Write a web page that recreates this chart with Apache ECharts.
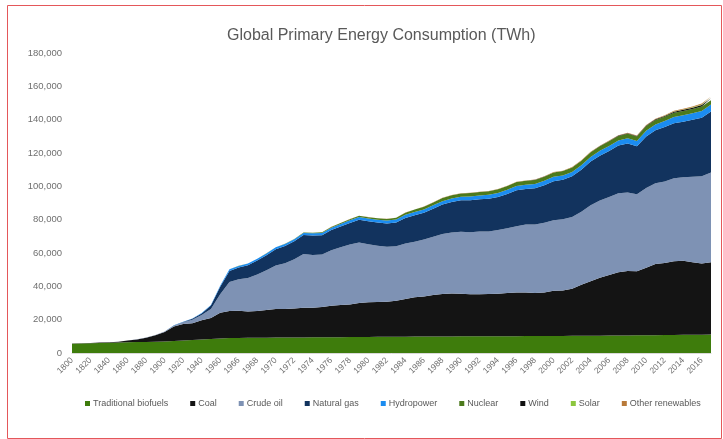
<!DOCTYPE html>
<html>
<head>
<meta charset="utf-8">
<script src="https://cdn.jsdelivr.net/npm/echarts@6/dist/echarts.min.js"></script>
<style>
html,body{margin:0;padding:0;background:#fff;}
#chart{width:723px;height:439px;}
</style>
</head>
<body>
<div id="chart"></div>
<script>
var years = ['1800','1810','1820','1830','1840','1850','1860','1870','1880','1890','1900','1910','1920','1930','1940','1950','1960',
'1965','1966','1967','1968','1969','1970','1971','1972','1973','1974','1975','1976','1977','1978','1979','1980','1981','1982','1983','1984',
'1985','1986','1987','1988','1989','1990','1991','1992','1993','1994','1995','1996','1997','1998','1999','2000','2001','2002','2003','2004',
'2005','2006','2007','2008','2009','2010','2011','2012','2013','2014','2015','2016','2017'];

var traditionalBiofuels = [5556,5694,5833,5972,6111,6250,6389,6528,6667,6806,6944,7222,7500,7778,8056,8333,8700,
9028,9070,9110,9150,9190,9230,9270,9310,9350,9390,9440,9480,9520,9560,9600,9640,9680,9720,9760,9800,
9840,9870,9900,9930,9960,9990,10020,10040,10060,10080,10100,10120,10140,10160,10180,10200,10240,10280,10320,10360,
10400,10450,10500,10550,10600,10650,10700,10760,10820,10880,10940,11020,11111];

var coal = [97,128,153,264,356,569,1061,1642,2542,3856,5728,8656,9833,10125,11586,12603,15442,
16140,16324,15748,16082,16664,17119,17100,17320,17740,17780,18200,18800,19300,19600,20400,20800,20900,21100,21600,22600,
23600,24000,24900,25500,25800,25600,25300,25200,25300,25400,25900,26200,26100,25900,26100,27100,27300,28200,30600,32700,
34800,36400,38000,38600,38400,40500,42700,43200,44300,44400,43500,42700,43400];

var crudeOil = [0,0,0,0,0,0,0,6,33,89,181,503,1097,1974,3233,5444,11097,
17500,18800,20200,21900,23800,26100,27500,29600,32300,31700,31400,33300,34600,35900,36300,34800,33700,32900,32700,33300,
33300,34200,34900,36000,36600,37100,37100,37600,37500,38300,38900,39800,40800,41000,41900,42400,42700,43100,43900,45600,
46300,46800,47400,47100,46200,47800,48400,49000,49700,50100,51300,52400,53752];

var naturalGas = [0,0,0,0,0,0,0,0,33,64,64,142,233,603,875,2092,4472,
6600,7100,7600,8300,9000,9800,10300,10800,11400,11600,11600,12200,12500,13000,13700,13800,14000,14000,14200,15300,
15900,16100,16900,17600,18300,18900,19300,19400,19700,19800,20500,21500,21400,21800,22500,23400,23700,24400,25200,26200,
26900,27600,28600,29400,28800,31000,31800,32600,33000,33400,34200,35100,36704];

var hydropower = [0,0,0,0,0,0,0,0,0,0,20,60,120,180,250,333,689,
920,980,1000,1050,1110,1160,1210,1250,1280,1390,1420,1440,1470,1580,1650,1720,1740,1790,1850,1900,
1950,1970,2000,2060,2080,2140,2200,2210,2320,2350,2480,2510,2550,2570,2600,2650,2600,2640,2650,2800,
2900,3000,3050,3200,3240,3430,3500,3660,3780,3880,3880,4020,4060];

var nuclear = [0,0,0,0,0,0,0,0,0,0,0,0,0,0,0,0,0,
26,35,41,52,62,80,112,153,204,259,370,430,540,640,670,710,830,900,1030,1260,
1480,1600,1730,1890,1940,2000,2100,2120,2200,2250,2330,2420,2400,2440,2530,2580,2650,2700,2640,2760,
2770,2800,2720,2730,2700,2770,2650,2470,2490,2540,2570,2610,2636];

var wind = [0,0,0,0,0,0,0,0,0,0,0,0,0,0,0,0,0,
0,0,0,0,0,0,0,0,0,0,0,0,0,0,0,0,0,0,0,0,
0,0,0,0,0,4,4,5,6,7,8,9,12,16,21,31,38,52,63,85,
104,133,171,221,276,346,437,521,636,712,831,959,1128];

var solar = [0,0,0,0,0,0,0,0,0,0,0,0,0,0,0,0,0,
0,0,0,0,0,0,0,0,0,0,0,0,0,0,0,0,0,0,0,0,
0,0,0,0,0,0,0,0,0,0,0,0,0,0,0,1,1,2,2,3,
4,6,8,12,20,32,64,100,139,190,253,330,443];

var otherRenewables = [0,0,0,0,0,0,0,0,0,0,0,0,0,0,0,0,0,
20,21,22,24,26,28,30,32,35,38,40,43,46,50,53,57,62,68,75,85,
95,102,110,117,125,130,135,140,146,150,155,160,168,172,178,183,185,195,204,220,
232,246,262,280,296,330,356,390,420,455,490,540,596];

var seriesNames = ['Traditional biofuels','Coal','Crude oil','Natural gas','Hydropower','Nuclear','Wind','Solar','Other renewables'];
var seriesData = [traditionalBiofuels, coal, crudeOil, naturalGas, hydropower, nuclear, wind, solar, otherRenewables];
var seriesColors = ['#3e7c0c','#141414','#7e92b4','#12335e','#1b8cf0','#4c7a1c','#111111','#8cc63f','#b87a3a'];

var chart = echarts.init(document.getElementById('chart'));
var font = 'Liberation Sans, Arial, sans-serif';
chart.setOption({
  animation: false,
  backgroundColor: '#fff',
  color: seriesColors,
  title: {
    text: 'Global Primary Energy Consumption (TWh)',
    left: 222, top: 23,
    textStyle: {fontSize: 16, fontWeight: 'normal', color: '#595959', fontFamily: font}
  },
  graphic: [{
    type: 'rect', left: 5, top: 3, silent: true,
    shape: {width: 714, height: 433},
    style: {fill: 'none', stroke: '#e4575a', lineWidth: 1}
  }],
  legend: {
    left: 80, top: 394,
    icon: 'rect', itemWidth: 5, itemHeight: 5, itemGap: 22,
    textStyle: {fontSize: 9, color: '#595959', fontFamily: font, padding: [0,0,0,-2]},
    data: seriesNames
  },
  grid: {left: 72, right: 12, top: 53, bottom: 86, containLabel: false},
  xAxis: {
    type: 'category', boundaryGap: false, data: years,
    axisLine: {show: true, lineStyle: {color: '#d9d9d9'}},
    axisTick: {show: false},
    axisLabel: {interval: 1, rotate: 45, fontSize: 8.5, color: '#6f6f6f', fontFamily: font, margin: 6}
  },
  yAxis: {
    type: 'value', min: 0, max: 180000, interval: 20000,
    axisLine: {show: false}, axisTick: {show: false},
    splitLine: {show: false},
    axisLabel: {fontSize: 9.5, color: '#6f6f6f', fontFamily: font, margin: 10,
      formatter: function (v) { return v.toLocaleString('en-US'); }}
  },
  series: seriesNames.map(function (n, i) {
    return {
      name: n, type: 'line', stack: 'total', data: seriesData[i],
      symbol: 'none', showSymbol: false,
      lineStyle: {width: 0},
      areaStyle: {color: seriesColors[i], opacity: 1},
      itemStyle: {color: seriesColors[i]}
    };
  })
});
</script>
</body>
</html>
